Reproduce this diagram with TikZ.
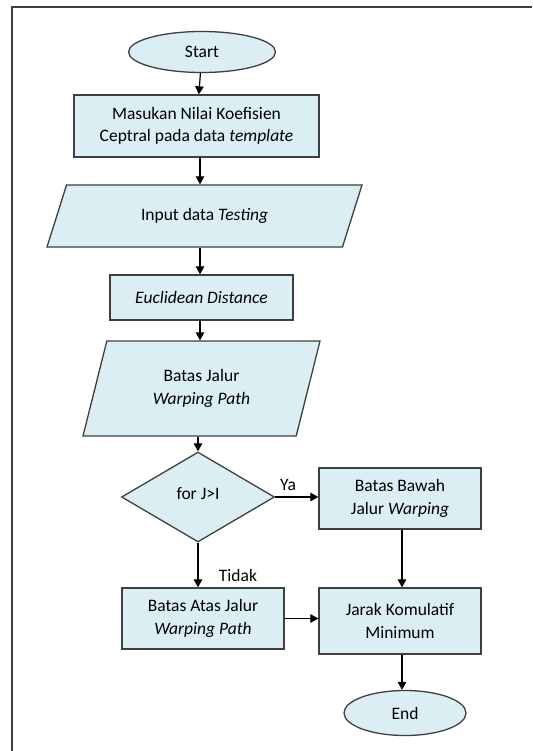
\documentclass[tikz,border=0pt]{standalone}
\usepackage{fontspec}
\setmainfont{Carlito}
\usetikzlibrary{shapes.geometric,arrows.meta}

\definecolor{flowfill}{HTML}{DBEEF4}
\definecolor{flowline}{HTML}{3F3F3F}

\tikzset{
  box/.style={rectangle, draw=flowline, fill=flowfill, line width=1.3pt, align=center, inner sep=0pt},
  terminal/.style={box, ellipse},
  inout/.style={box, trapezium, trapezium stretches body},
  decision/.style={box, diamond},
  flow/.style={-{Triangle[length=8pt,width=8.5pt]}, line width=1.2pt, black},
  flowlabel/.style={inner sep=0pt, font=\flowfont},
}
\newcommand{\flowfont}{\fontsize{17.5}{22.5}\selectfont}

\begin{document}
\begin{tikzpicture}[x=1pt, y=-1pt, font=\flowfont]

    % Drawing Parameters
    \pgfmathsetmacro{\maincol}{200}%
    \pgfmathsetmacro{\sidecol}{400}%
    \useasboundingbox (0,0) rectangle (532,751);

    % Page frame
    \draw[flowline, line width=2pt] (12,751) -- (12,7.5) -- (532,7.5);

    % Main column
    \node[terminal, minimum width=147pt, minimum height=41pt] (start) at (202,52) {Start};
    \node[box, minimum width=245pt, minimum height=62pt] (koef) at (196.5,126)
      {Masukan Nilai Koefisien\\Ceptral pada data \textit{template}};
    \node[inout, trapezium left angle=37.8, trapezium right angle=142.2,
      minimum width=315pt, minimum height=62pt] (testing) at (204.5,216)
      {Input data \textit{Testing}};
    \node[box, minimum width=183pt, minimum height=45pt] (euclid) at (201.5,297.5)
      {\textit{Euclidean Distance}};
    \node[inout, trapezium left angle=57.7, trapezium right angle=122.3,
      minimum width=237pt, minimum height=95pt] (batas) at (201.5,388.5)
      {Batas Jalur\\\textit{Warping Path}};
    \node[decision, minimum width=153pt, minimum height=90pt] (forji) at (198,497)
      {\raisebox{8pt}{for J>I}};
    \node[box, minimum width=162pt, minimum height=61pt] (atas) at (203,618.5)
      {Batas Atas Jalur\\\textit{Warping Path}};

    % Side column
    \node[box, minimum width=162pt, minimum height=61pt] (bawah) at (\sidecol,498.5)
      {Batas Bawah\\Jalur \textit{Warping}};
    \node[box, minimum width=162pt, minimum height=66pt] (jarak) at (\sidecol,621)
      {Jarak Komulatif\\Minimum};
    \node[terminal, minimum width=122pt, minimum height=45pt] (end) at (405,713) {End};

    % Branch labels
    \node[flowlabel] (ya) at (288,485) {Ya};
    \node[flowlabel] (tidak) at (238,575) {Tidak};

    % Arrows
    \draw[flow] (start) -- (koef);
    \draw[flow] (koef.south -| \maincol,0) -- (testing.north -| \maincol,0);
    \draw[flow] (testing.south -| \maincol,0) -- (euclid.north -| \maincol,0);
    \draw[flow] (euclid.south -| \maincol,0) -- (batas.north -| \maincol,0);
    \draw[flow] (batas.south -| forji.north) -- (forji.north);
    \draw[flow] (forji.east) -- (forji.east -| bawah.west);
    \draw[flow] (forji.south) -- (forji.south |- atas.north);
    \draw[flow] (bawah.south -| 402,0) -- (jarak.north -| 402,0);
    \draw[flow] (atas.east) -- (atas.east -| jarak.west);
    \draw[flow] (jarak.south -| 402,0) -- (end.north -| 402,0);
  \end{tikzpicture}
\end{document}
